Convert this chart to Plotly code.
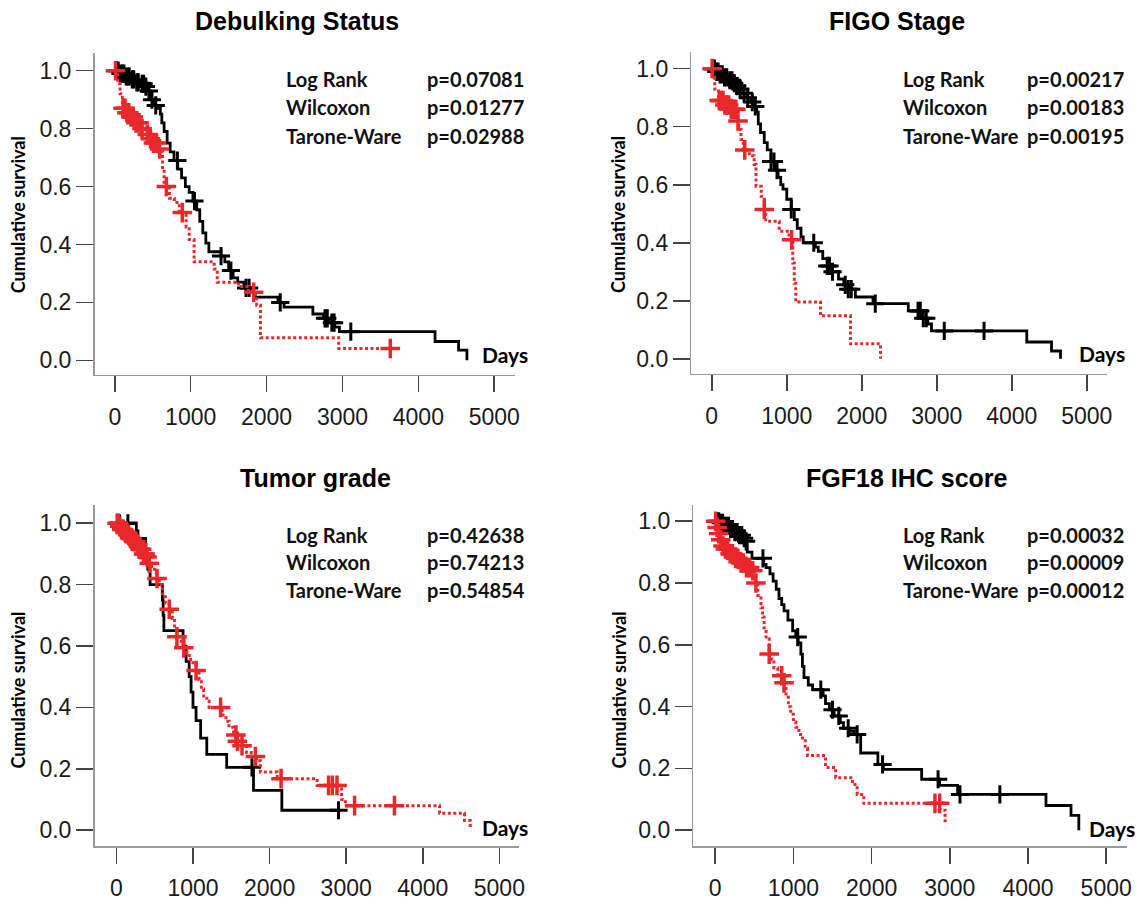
import numpy as np
import plotly.graph_objects as go

# ---------------- DATA ----------------
titles = ["Debulking Status", "FIGO Stage", "Tumor grade", "FGF18 IHC score"]
test_names = ["Log Rank", "Wilcoxon", "Tarone-Ware"]
p_values = [
    ["p=0.07081", "p=0.01277", "p=0.02988"],
    ["p=0.00217", "p=0.00183", "p=0.00195"],
    ["p=0.42638", "p=0.74213", "p=0.54854"],
    ["p=0.00032", "p=0.00009", "p=0.00012"],
]
x_ticks = [0, 1000, 2000, 3000, 4000, 5000]
y_ticks = [0.0, 0.2, 0.4, 0.6, 0.8, 1.0]

# Debulking status
deb_blk_t = [0, 60, 130, 200, 270, 340, 400, 430, 470, 520, 560, 600, 620, 650, 690, 730, 780, 830, 880, 930,
             980, 1030, 1080, 1120, 1160, 1200, 1240, 1400, 1450, 1500, 1560, 1620, 1700, 1780, 1850, 2150, 2230,
             2610, 2750, 2820, 2900, 2960, 4220, 4530, 4640]
deb_blk_s = [1.0, 0.99, 0.98, 0.97, 0.96, 0.955, 0.945, 0.93, 0.90, 0.88, 0.87, 0.85, 0.82, 0.79, 0.75, 0.72,
             0.69, 0.66, 0.63, 0.60, 0.58, 0.55, 0.52, 0.48, 0.44, 0.405, 0.375, 0.36, 0.34, 0.31, 0.285, 0.27,
             0.25, 0.235, 0.218, 0.20, 0.184, 0.16, 0.145, 0.13, 0.115, 0.099, 0.065, 0.035, 0.0]
deb_blk_cens = [20, 45, 75, 100, 120, 150, 175, 190, 230, 250, 290, 310, 360, 380, 410, 450, 490, 540, 825, 1050,
                1400, 1530, 1730, 1770, 2180, 2770, 2800, 2860, 2890, 3110]
deb_red_t = [0, 40, 70, 100, 150, 200, 260, 330, 400, 450, 500, 560, 610, 630, 650, 720, 785, 850, 940, 980,
             1045, 1310, 1350, 1630, 1760, 1850, 1870, 1920, 2950]
deb_red_s = [1.0, 0.955, 0.92, 0.87, 0.855, 0.84, 0.82, 0.80, 0.78, 0.765, 0.75, 0.73, 0.72, 0.66, 0.60, 0.56,
             0.545, 0.51, 0.46, 0.417, 0.34, 0.315, 0.27, 0.255, 0.235, 0.218, 0.19, 0.078, 0.041]
deb_red_cens = [10, 110, 135, 160, 185, 215, 245, 280, 320, 360, 430, 470, 510, 550, 590, 680, 890, 1830, 3630]

# FIGO stage
figo_blk_t = [0, 40, 100, 160, 220, 280, 330, 370, 420, 470, 520, 570, 600, 620, 650, 700, 740, 790, 840, 885,
              920, 950, 1000, 1060, 1100, 1140, 1190, 1220, 1380, 1420, 1480, 1540, 1600, 1690, 1760, 1820, 1915,
              2150, 2620, 2800, 2880, 2930, 4200, 4530, 4650]
figo_blk_s = [1.0, 0.99, 0.98, 0.97, 0.96, 0.95, 0.94, 0.93, 0.915, 0.90, 0.885, 0.87, 0.85, 0.81, 0.78, 0.745,
              0.72, 0.68, 0.65, 0.625, 0.60, 0.585, 0.55, 0.515, 0.48, 0.45, 0.42, 0.40, 0.385, 0.37, 0.345, 0.32,
              0.30, 0.275, 0.255, 0.24, 0.213, 0.19, 0.165, 0.14, 0.12, 0.096, 0.058, 0.027, 0.0]
figo_blk_cens = [15, 35, 60, 85, 110, 140, 170, 200, 240, 270, 300, 340, 380, 430, 480, 540, 580, 790, 830, 870,
                 1060, 1360, 1540, 1570, 1610, 1780, 1820, 1860, 2180, 2750, 2780, 2820, 2860, 3100, 3630]
figo_red_t = [0, 10, 40, 90, 160, 250, 330, 360, 390, 420, 500, 565, 590, 660, 700, 720, 900, 1030, 1080, 1100,
              1120, 1450, 1850, 2250]
figo_red_s = [1.0, 0.97, 0.93, 0.89, 0.875, 0.86, 0.82, 0.79, 0.756, 0.72, 0.70, 0.67, 0.595, 0.56, 0.515, 0.474,
              0.44, 0.41, 0.33, 0.26, 0.196, 0.148, 0.052, 0.0]
figo_red_cens = [5, 100, 125, 150, 175, 200, 225, 260, 290, 320, 350, 440, 700, 1065]

# Tumor grade
grade_blk_t = [0, 260, 380, 410, 440, 600, 610, 620, 870, 910, 950, 975, 1000, 1040, 1100, 1180, 1440, 1790, 2160]
grade_blk_s = [1.0, 0.95, 0.90, 0.85, 0.80, 0.75, 0.70, 0.65, 0.60, 0.55, 0.50, 0.45, 0.40, 0.357, 0.30, 0.247,
               0.205, 0.13, 0.065]
grade_blk_cens = [40, 150, 280, 1770, 2900]
grade_red_t = [0, 30, 60, 100, 140, 180, 220, 260, 300, 340, 380, 420, 460, 520, 560, 600, 640, 690, 730, 760,
               790, 850, 880, 920, 950, 1000, 1040, 1080, 1110, 1140, 1180, 1210, 1380, 1430, 1470, 1530, 1580,
               1640, 1700, 1760, 1830, 1880, 2100, 2620, 2940, 2990, 4220, 4545, 4620]
grade_red_s = [1.0, 0.99, 0.98, 0.97, 0.96, 0.95, 0.94, 0.93, 0.915, 0.90, 0.89, 0.87, 0.85, 0.82, 0.80, 0.77,
               0.74, 0.72, 0.69, 0.66, 0.63, 0.61, 0.594, 0.575, 0.556, 0.54, 0.52, 0.49, 0.46, 0.43, 0.42, 0.40,
               0.375, 0.355, 0.335, 0.31, 0.29, 0.275, 0.253, 0.24, 0.226, 0.19, 0.168, 0.146, 0.10, 0.08, 0.055,
               0.032, 0.01]
grade_red_cens = [10, 25, 45, 70, 90, 115, 135, 160, 185, 205, 230, 255, 280, 310, 330, 355, 375, 400, 430, 530,
                  690, 790, 880, 1040, 1360, 1560, 1580, 1640, 1815, 2150, 2770, 2820, 2880, 3110, 3630]

# FGF18 IHC score
fgf_blk_t = [0, 60, 120, 180, 240, 300, 350, 395, 410, 470, 620, 650, 700, 740, 780, 815, 850, 880, 930, 990,
             1030, 1060, 1095, 1115, 1135, 1190, 1245, 1380, 1410, 1460, 1520, 1600, 1640, 1720, 1780, 1860, 2080,
             2150, 2640, 2870, 3100, 4230, 4550, 4650]
fgf_blk_s = [1.0, 0.995, 0.985, 0.975, 0.965, 0.955, 0.945, 0.935, 0.90, 0.88, 0.86, 0.85, 0.83, 0.806, 0.78,
             0.75, 0.73, 0.71, 0.68, 0.645, 0.625, 0.606, 0.57, 0.53, 0.494, 0.47, 0.455, 0.435, 0.41, 0.39, 0.37,
             0.348, 0.33, 0.32, 0.31, 0.25, 0.213, 0.197, 0.165, 0.145, 0.116, 0.08, 0.048, 0.0]
fgf_blk_cens = [20, 45, 70, 95, 120, 145, 170, 195, 220, 250, 280, 310, 340, 370, 395, 610, 1055, 1350, 1500,
                1580, 1700, 1815, 2140, 2850, 3130, 3640]
fgf_red_t = [0, 10, 30, 60, 90, 120, 180, 250, 320, 390, 450, 500, 520, 545, 585, 605, 625, 650, 690, 720, 750,
             800, 865, 905, 935, 965, 1000, 1030, 1070, 1115, 1150, 1180, 1410, 1540, 1755, 1815, 1900, 2875, 2940]
fgf_red_s = [1.0, 0.98, 0.96, 0.94, 0.92, 0.91, 0.895, 0.88, 0.865, 0.85, 0.84, 0.82, 0.80, 0.76, 0.72, 0.69,
             0.655, 0.62, 0.57, 0.55, 0.526, 0.50, 0.477, 0.43, 0.40, 0.375, 0.35, 0.333, 0.31, 0.29, 0.265, 0.242,
             0.203, 0.17, 0.148, 0.116, 0.087, 0.065, 0.02]
fgf_red_cens = [5, 25, 45, 70, 100, 130, 160, 190, 220, 260, 290, 330, 360, 400, 440, 480, 520, 690, 850, 880,
                2810, 2870]

panels_data = [
    (deb_blk_t, deb_blk_s, deb_blk_cens, deb_red_t, deb_red_s, deb_red_cens),
    (figo_blk_t, figo_blk_s, figo_blk_cens, figo_red_t, figo_red_s, figo_red_cens),
    (grade_blk_t, grade_blk_s, grade_blk_cens, grade_red_t, grade_red_s, grade_red_cens),
    (fgf_blk_t, fgf_blk_s, fgf_blk_cens, fgf_red_t, fgf_red_s, fgf_red_cens),
]

# ---------------- LAYOUT / STYLE ----------------
W, H = 1146, 901
BLACK = "#000000"
RED = "#e8282b"
TICK_FONT = dict(family="Liberation Sans, Arial, sans-serif", size=23, color="#1a1a1a")
TITLE_FONT = dict(family="Liberation Sans, Arial, sans-serif", size=25, color="#000000")
STAT_FONT = dict(family="Lato, Open Sans, sans-serif", size=20, color="#111111")

# plot-area geometry in window pixels: (left, right, top, bottom), axis ranges
geom = [
    dict(box=(95, 518, 53, 376), xr=(-267, 5277), yr=(-0.0497, 1.0617)),
    dict(box=(695, 1113, 52, 375), xr=(-272, 5272), yr=(-0.0515, 1.058)),
    dict(box=(95, 522, 507, 849), xr=(-286, 5260), yr=(-0.052, 1.0584)),
    dict(box=(697, 1133, 507, 849), xr=(-280, 5267), yr=(-0.0516, 1.0516)),
]
title_pos = [(299, 21), (902, 21), (317, 480), (912, 480)]
stat_label_x = [285, 906, 285, 906]
stat_p_x = [427, 1030, 427, 1030]
stat_rows_y = [(79, 107, 136), (79, 107, 136), (537, 564, 592), (537, 564, 592)]
days_pos = [(483, 356), (1083, 355), (483, 830), (1093, 831)]
ylab_pos = [(18, 215), (622, 215), (18, 692), (622, 692)]


def px(x):
    return x / W


def py(y):
    return 1 - y / H


def km_at(t_steps, s_steps, times):
    t_arr = np.asarray(t_steps, dtype=float)
    s_arr = np.asarray(s_steps, dtype=float)
    idx = np.searchsorted(t_arr, np.asarray(times, dtype=float), side="right") - 1
    return s_arr[np.clip(idx, 0, None)]


def step_xy(t_steps, s_steps, cens):
    t = list(t_steps)
    s = list(s_steps)
    if cens and max(cens) > t[-1]:
        t.append(max(cens))
        s.append(s[-1])
    return t, s


fig = go.Figure()
layout_axes = {}

for i, (bt, bs, bc, rt, rs, rc) in enumerate(panels_data):
    n = "" if i == 0 else str(i + 1)
    xa, ya = "x" + n, "y" + n
    # black group
    x, y = step_xy(bt, bs, bc)
    fig.add_trace(go.Scatter(x=x, y=y, mode="lines", line=dict(color=BLACK, width=2.8, shape="hv"),
                             xaxis=xa, yaxis=ya, showlegend=False, hoverinfo="skip"))
    fig.add_trace(go.Scatter(x=bc, y=km_at(bt, bs, bc), mode="markers",
                             marker=dict(symbol="cross-thin", size=13, line=dict(color=BLACK, width=3)),
                             xaxis=xa, yaxis=ya, showlegend=False, hoverinfo="skip"))
    # red group
    x, y = step_xy(rt, rs, rc)
    fig.add_trace(go.Scatter(x=x, y=y, mode="lines",
                             line=dict(color=RED, width=3, shape="hv", dash="3px,2.5px"),
                             xaxis=xa, yaxis=ya, showlegend=False, hoverinfo="skip"))
    fig.add_trace(go.Scatter(x=rc, y=km_at(rt, rs, rc), mode="markers",
                             marker=dict(symbol="cross-thin", size=14, line=dict(color=RED, width=3.5)),
                             xaxis=xa, yaxis=ya, showlegend=False, hoverinfo="skip"))

    g = geom[i]
    l, r, t, b = g["box"]
    layout_axes["xaxis" + n] = dict(
        domain=[px(l), px(r)], range=list(g["xr"]), anchor=ya,
        tickmode="array", tickvals=x_ticks, ticktext=[str(v) for v in x_ticks],
        showline=True, linecolor="#9a9a9a", linewidth=1.5,
        ticks="outside", ticklen=16, tickwidth=1.6, tickcolor="#444444", ticklabelstandoff=5,
        showgrid=False, zeroline=False, tickfont=TICK_FONT, fixedrange=True)
    layout_axes["yaxis" + n] = dict(
        domain=[py(b), py(t)], range=list(g["yr"]), anchor=xa,
        tickmode="array", tickvals=y_ticks, ticktext=[f"{v:.1f}" for v in y_ticks],
        showline=True, linecolor="#9a9a9a", linewidth=1.5,
        ticks="outside", ticklen=17, tickwidth=1.6, tickcolor="#444444",
        showgrid=False, zeroline=False, tickfont=TICK_FONT, fixedrange=True)

annotations = []
for i in range(4):
    tx, ty = title_pos[i]
    annotations.append(dict(text="<b>" + titles[i] + "</b>", x=px(tx), y=py(ty), xref="paper", yref="paper",
                            xanchor="center", yanchor="middle", showarrow=False, font=TITLE_FONT))
    for k in range(3):
        annotations.append(dict(text="<b>" + test_names[k] + "</b>", x=px(stat_label_x[i]), y=py(stat_rows_y[i][k]),
                                xref="paper", yref="paper", xanchor="left", yanchor="middle",
                                showarrow=False, font=STAT_FONT))
        annotations.append(dict(text="<b>" + p_values[i][k] + "</b>", x=px(stat_p_x[i]), y=py(stat_rows_y[i][k]),
                                xref="paper", yref="paper", xanchor="left", yanchor="middle",
                                showarrow=False, font=STAT_FONT))
    dx, dy = days_pos[i]
    annotations.append(dict(text="<b>Days</b>", x=px(dx), y=py(dy), xref="paper", yref="paper",
                            xanchor="left", yanchor="middle", showarrow=False,
                            font=dict(family="Lato, Open Sans, sans-serif", size=21, color="#000000")))
    lx, ly = ylab_pos[i]
    annotations.append(dict(text="<b>Cumulative survival</b>", x=px(lx), y=py(ly), xref="paper", yref="paper",
                            xanchor="center", yanchor="middle", showarrow=False, textangle=-90,
                            font=dict(family="Lato, Open Sans, sans-serif", size=18, color="#000000")))

fig.update_layout(
    width=W, height=H, margin=dict(l=0, r=0, t=0, b=0),
    paper_bgcolor="white", plot_bgcolor="white", hovermode=False,
    annotations=annotations, **layout_axes)

# remove the default page margin so the figure fills the window exactly; hide the mode bar
fig.write_html("out.html", config={"displayModeBar": False, "staticPlot": True},
               post_script="document.body.style.margin='0px';"
                           "document.documentElement.style.overflow='hidden';")
